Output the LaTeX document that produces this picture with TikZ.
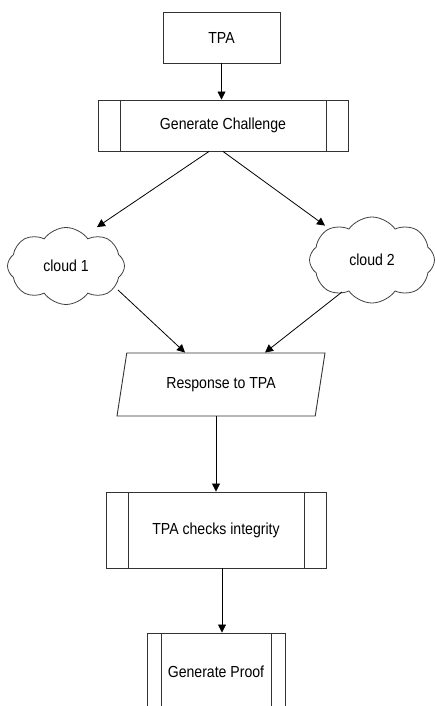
\documentclass[tikz,border=0pt]{standalone}
\usepackage{fontspec}
\setmainfont{Liberation Sans}[FakeStretch=0.88]
\usetikzlibrary{shapes.geometric,shapes.symbols,arrows.meta}
\tikzset{
  box/.style={draw=black!80, line width=0.9pt, fill=white, inner sep=0pt, font=\fontsize{16}{18}\selectfont},
  proc/.style={box, path picture={
      \draw[black!80, line width=0.9pt] ([xshift=#1]path picture bounding box.north west) -- ([xshift=#1]path picture bounding box.south west);
      \draw[black!80, line width=0.9pt] ([xshift=-#1]path picture bounding box.north east) -- ([xshift=-#1]path picture bounding box.south east);}},
  cloudbox/.style={cloud, cloud puffs=8, cloud puff arc=110, draw=black!75, line width=0.8pt, inner sep=0pt, font=\fontsize{16}{18}\selectfont},
  conn/.style={draw=black, line width=0.8pt, -{Triangle[length=8pt,width=8pt]}},
}
\begin{document}
\begin{tikzpicture}[x=1pt,y=-1pt]
\useasboundingbox (0,0) rectangle (435,706);
\clip (0,0) rectangle (435,706);
\node[box, minimum width=117pt, minimum height=51pt] (tpa) at (221.5,37.5) {TPA};
\node[proc=22pt, minimum width=250pt, minimum height=51pt] (gc) at (223,125.5) {Generate Challenge};
\node[cloudbox, minimum width=117pt, minimum height=77pt] (c1) at (66,266) {cloud 1};
\node[cloudbox, minimum width=125pt, minimum height=86pt] (c2) at (372,260) {cloud 2};
\node[box, trapezium, trapezium left angle=55.7, trapezium right angle=124.3, trapezium stretches body=true, minimum width=208pt, minimum height=63pt] (resp) at (221,384.5) {Response to TPA};
\node[proc=22pt, minimum width=220pt, minimum height=76pt] (tci) at (216,530) {TPA checks integrity};
\node[proc=14pt, minimum width=138pt, minimum height=78pt] (gp) at (216,672) {Generate Proof};

\draw[conn] (tpa.south) -- (gc.north -| tpa.south);
\draw[conn] ([xshift=-14pt]gc.south) -- ([xshift=31pt]c1.north);
\draw[conn] (gc.south) -- ([xshift=-47pt,yshift=-9pt]c2.north);
\draw[conn] ([shift={(52pt,-24pt)}]c1.center) -- ([xshift=-36pt]resp.north);
\draw[conn] ([shift={(-30pt,-32pt)}]c2.center) -- ([xshift=44pt]resp.north);
\draw[conn] (resp.south -| tci.north) -- (tci.north);
\draw[conn] ([xshift=6pt]tci.south) -- ([xshift=6pt]gp.north);
\end{tikzpicture}
\end{document}
